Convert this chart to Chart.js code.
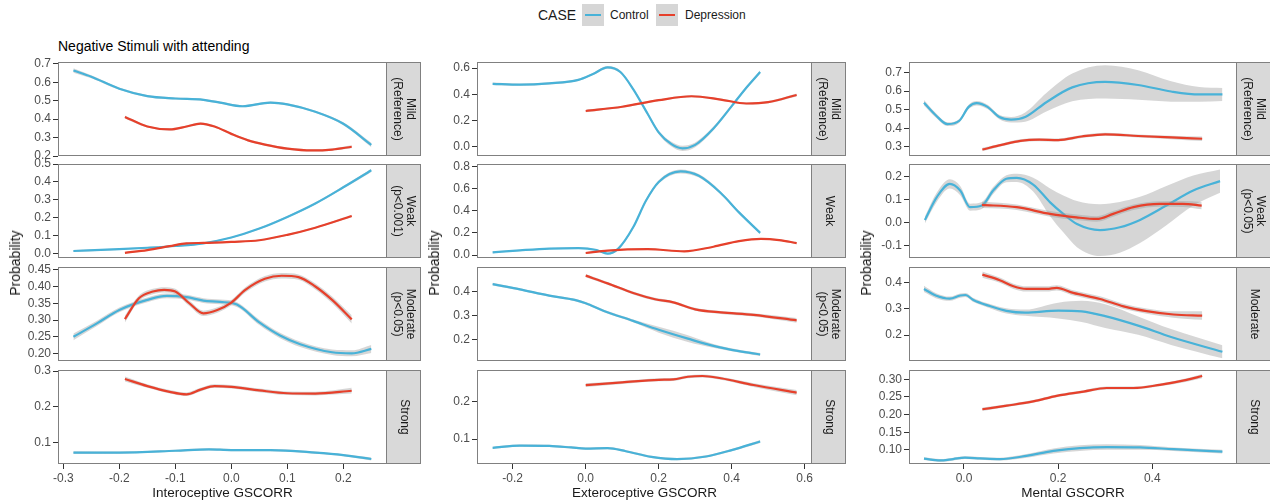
<!DOCTYPE html>
<html lang="en">
<head>
<meta charset="UTF-8">
<title>Negative Stimuli with attending</title>
<script src="https://cdn.jsdelivr.net/npm/chart.js"></script>
<style>
    body {
        margin: 0;
        background: #fff;
        overflow: hidden;
        font-family: 'Liberation Sans', Arial, Helvetica, sans-serif;
    }
    #wrap {
        position: relative;
        width: 1270px;
        height: 503px;
        overflow: hidden;
    }
    #wrap canvas {
        position: absolute;
    }
    .txt {
        position: absolute;
        white-space: nowrap;
        color: #1a1a1a;
    }
    .key {
        position: absolute;
        top: 4px;
        width: 22px;
        height: 22px;
        background: #d6d6d6;
    }
    .key span {
        position: absolute;
        left: 3px;
        right: 3px;
        top: 10px;
        height: 2px;
    }
</style>
</head>
<body>
<div id="wrap">
    <!-- legend -->
    <div class="txt" style="left:538px; top:7px; font-size:14px;">CASE</div>
    <div class="key" style="left:582px;"><span style="background:#48b2d8"></span></div>
    <div class="txt" style="left:610px; top:8px; font-size:12px;">Control</div>
    <div class="key" style="left:656px;"><span style="background:#e6402b"></span></div>
    <div class="txt" style="left:685px; top:8px; font-size:12px;">Depression</div>
    <!-- plot title -->
    <div class="txt" style="left:58px; top:38px; font-size:14px; color:#000;">Negative Stimuli with attending</div>
</div>

<script>
    // ---- data: each point is [x, fitted probability, half width of the grey band] ----

    // Interoceptive GSCORR
    const interoXTicks = ['-0.3', '-0.2', '-0.1', '0.0', '0.1', '0.2'];
    const interoXLim = [-0.3095, 0.278];
    const interoYTicks = [['0.2', '0.3', '0.4', '0.5', '0.6', '0.7'], ['0.0', '0.1', '0.2', '0.3', '0.4', '0.5'], ['0.20', '0.25', '0.30', '0.35', '0.40', '0.45'], ['0.1', '0.2', '0.3']];
    const interoYLim = [[0.2, 0.71], [-0.024, 0.5], [0.178, 0.458], [0.04, 0.303]];
    const interoStrips = [['Mild', '(Reference)'], ['Weak', '(p<0.001)'], ['Moderate', '(p<0.05)'], ['Strong']];

    const interoMildCtrl = [[-0.282, 0.664, 0.012], [-0.25, 0.63, 0.008], [-0.2, 0.565, 0.006], [-0.15, 0.525, 0.006], [-0.1, 0.512, 0.006], [-0.05, 0.505, 0.006], [-0.02, 0.49, 0.006], [0.02, 0.47, 0.006], [0.07, 0.49, 0.006], [0.1, 0.48, 0.006], [0.15, 0.44, 0.006], [0.2, 0.375, 0.008], [0.25, 0.26, 0.012]];
    const interoMildDep = [[-0.19, 0.412, 0.008], [-0.15, 0.36, 0.006], [-0.11, 0.344, 0.006], [-0.08, 0.36, 0.006], [-0.055, 0.376, 0.006], [-0.03, 0.36, 0.006], [0, 0.32, 0.006], [0.03, 0.285, 0.006], [0.06, 0.262, 0.006], [0.1, 0.24, 0.006], [0.145, 0.23, 0.006], [0.18, 0.235, 0.006], [0.215, 0.25, 0.008]];
    const interoWeakCtrl = [[-0.282, 0.015, 0.005], [-0.2, 0.025, 0.004], [-0.15, 0.033, 0.004], [-0.1, 0.043, 0.004], [-0.05, 0.058, 0.004], [0, 0.09, 0.004], [0.05, 0.14, 0.005], [0.1, 0.205, 0.005], [0.15, 0.28, 0.006], [0.2, 0.37, 0.007], [0.25, 0.465, 0.009]];
    const interoWeakDep = [[-0.19, 0.005, 0.005], [-0.15, 0.02, 0.004], [-0.11, 0.042, 0.004], [-0.08, 0.058, 0.004], [-0.05, 0.06, 0.004], [0, 0.066, 0.004], [0.05, 0.075, 0.004], [0.1, 0.105, 0.005], [0.15, 0.145, 0.005], [0.215, 0.21, 0.007]];
    const interoModCtrl = [[-0.282, 0.25, 0.01], [-0.24, 0.29, 0.008], [-0.2, 0.33, 0.007], [-0.15, 0.36, 0.007], [-0.115, 0.372, 0.007], [-0.08, 0.368, 0.007], [-0.05, 0.358, 0.007], [-0.02, 0.354, 0.007], [0.01, 0.346, 0.007], [0.05, 0.293, 0.008], [0.087, 0.254, 0.008], [0.123, 0.228, 0.008], [0.18, 0.204, 0.008], [0.215, 0.201, 0.009], [0.25, 0.214, 0.012]];
    const interoModDep = [[-0.19, 0.303, 0.01], [-0.165, 0.365, 0.008], [-0.14, 0.385, 0.008], [-0.12, 0.39, 0.008], [-0.1, 0.385, 0.008], [-0.075, 0.35, 0.008], [-0.05, 0.32, 0.008], [-0.025, 0.33, 0.008], [0, 0.352, 0.008], [0.025, 0.39, 0.008], [0.06, 0.423, 0.008], [0.09, 0.432, 0.008], [0.12, 0.428, 0.008], [0.15, 0.4, 0.009], [0.18, 0.36, 0.01], [0.215, 0.302, 0.012]];
    const interoStrongCtrl = [[-0.282, 0.072, 0.004], [-0.2, 0.072, 0.003], [-0.1, 0.077, 0.003], [-0.04, 0.081, 0.003], [0, 0.079, 0.003], [0.07, 0.079, 0.003], [0.15, 0.072, 0.003], [0.2, 0.065, 0.003], [0.25, 0.054, 0.004]];
    const interoStrongDep = [[-0.19, 0.278, 0.007], [-0.15, 0.258, 0.005], [-0.11, 0.242, 0.005], [-0.08, 0.235, 0.005], [-0.055, 0.248, 0.005], [-0.03, 0.258, 0.005], [0, 0.256, 0.005], [0.05, 0.246, 0.005], [0.1, 0.238, 0.005], [0.15, 0.237, 0.005], [0.215, 0.245, 0.008]];

    // Exteroceptive GSCORR
    const exteroXTicks = ['-0.2', '0.0', '0.2', '0.4', '0.6'];
    const exteroXLim = [-0.2978, 0.62];
    const exteroYTicks = [['0.0', '0.2', '0.4', '0.6'], ['0.0', '0.2', '0.4', '0.6', '0.8'], ['0.2', '0.3', '0.4'], ['0.1', '0.2']];
    const exteroYLim = [[-0.07, 0.646], [-0.027, 0.822], [0.11, 0.501], [0.034, 0.284]];
    const exteroStrips = [['Mild', '(Reference)'], ['Weak'], ['Moderate', '(p<0.05)'], ['Strong']];

    const exteroMildCtrl = [[-0.255, 0.48, 0.01], [-0.18, 0.473, 0.008], [-0.1, 0.483, 0.008], [-0.02, 0.51, 0.008], [0.02, 0.555, 0.008], [0.06, 0.605, 0.01], [0.095, 0.57, 0.01], [0.13, 0.44, 0.01], [0.17, 0.25, 0.012], [0.2, 0.11, 0.014], [0.235, 0.02, 0.018], [0.265, -0.012, 0.02], [0.3, 0.015, 0.018], [0.35, 0.14, 0.014], [0.4, 0.31, 0.012], [0.44, 0.45, 0.012], [0.478, 0.57, 0.014]];
    const exteroMildDep = [[0, 0.273, 0.01], [0.1, 0.305, 0.008], [0.2, 0.355, 0.008], [0.29, 0.385, 0.008], [0.37, 0.36, 0.008], [0.44, 0.33, 0.008], [0.5, 0.34, 0.009], [0.578, 0.395, 0.012]];
    const exteroWeakCtrl = [[-0.255, 0.024, 0.008], [-0.18, 0.042, 0.006], [-0.1, 0.058, 0.006], [-0.02, 0.063, 0.006], [0.03, 0.045, 0.006], [0.06, 0.012, 0.008], [0.09, 0.06, 0.01], [0.13, 0.25, 0.012], [0.165, 0.49, 0.014], [0.2, 0.66, 0.016], [0.26, 0.755, 0.018], [0.31, 0.715, 0.016], [0.37, 0.56, 0.014], [0.42, 0.385, 0.012], [0.478, 0.2, 0.012]];
    const exteroWeakDep = [[0, 0.018, 0.008], [0.06, 0.04, 0.006], [0.17, 0.053, 0.006], [0.27, 0.033, 0.006], [0.35, 0.075, 0.006], [0.42, 0.125, 0.006], [0.48, 0.145, 0.007], [0.53, 0.135, 0.008], [0.578, 0.108, 0.01]];
    const exteroModCtrl = [[-0.255, 0.43, 0.006], [-0.18, 0.408, 0.005], [-0.1, 0.382, 0.005], [-0.03, 0.364, 0.005], [0, 0.35, 0.005], [0.05, 0.318, 0.005], [0.13, 0.277, 0.006], [0.2, 0.24, 0.012], [0.28, 0.203, 0.014], [0.35, 0.173, 0.008], [0.42, 0.151, 0.006], [0.478, 0.137, 0.006]];
    const exteroModDep = [[0, 0.465, 0.007], [0.06, 0.433, 0.006], [0.13, 0.393, 0.006], [0.19, 0.367, 0.006], [0.24, 0.354, 0.006], [0.3, 0.325, 0.006], [0.37, 0.312, 0.006], [0.46, 0.302, 0.007], [0.578, 0.279, 0.01]];
    const exteroStrongCtrl = [[-0.255, 0.077, 0.003], [-0.18, 0.083, 0.003], [-0.1, 0.082, 0.003], [-0.04, 0.078, 0.003], [0, 0.075, 0.003], [0.06, 0.076, 0.003], [0.11, 0.068, 0.003], [0.18, 0.053, 0.003], [0.25, 0.047, 0.003], [0.33, 0.054, 0.003], [0.4, 0.071, 0.003], [0.478, 0.094, 0.004]];
    const exteroStrongDep = [[0, 0.244, 0.005], [0.1, 0.251, 0.004], [0.2, 0.258, 0.004], [0.24, 0.259, 0.004], [0.28, 0.266, 0.004], [0.32, 0.268, 0.004], [0.37, 0.262, 0.004], [0.46, 0.244, 0.005], [0.578, 0.224, 0.007]];

    // Mental GSCORR
    const mentalXTicks = ['0.0', '0.2', '0.4'];
    const mentalXLim = [-0.1168, 0.58];
    const mentalYTicks = [['0.3', '0.4', '0.5', '0.6', '0.7'], ['-0.1', '0.0', '0.1', '0.2'], ['0.2', '0.3', '0.4'], ['0.10', '0.15', '0.20', '0.25', '0.30']];
    const mentalYLim = [[0.25, 0.757], [-0.153, 0.254], [0.102, 0.458], [0.06, 0.326]];
    const mentalStrips = [['Mild', '(Reference)'], ['Weak', '(p<0.05)'], ['Moderate'], ['Strong']];

    const mentalMildCtrl = [[-0.085, 0.537, 0.015], [-0.06, 0.47, 0.012], [-0.035, 0.422, 0.01], [-0.01, 0.44, 0.01], [0.01, 0.515, 0.012], [0.027, 0.535, 0.012], [0.05, 0.515, 0.012], [0.075, 0.46, 0.012], [0.1, 0.446, 0.015], [0.13, 0.46, 0.025], [0.175, 0.54, 0.05], [0.23, 0.62, 0.075], [0.3, 0.65, 0.09], [0.37, 0.633, 0.08], [0.44, 0.598, 0.055], [0.5, 0.582, 0.04], [0.549, 0.582, 0.035]];
    const mentalMildDep = [[0.039, 0.285, 0.01], [0.08, 0.31, 0.008], [0.12, 0.332, 0.008], [0.16, 0.338, 0.008], [0.2, 0.336, 0.008], [0.25, 0.355, 0.008], [0.3, 0.367, 0.008], [0.37, 0.358, 0.008], [0.44, 0.35, 0.009], [0.506, 0.343, 0.012]];
    const mentalWeakCtrl = [[-0.083, 0.012, 0.015], [-0.058, 0.11, 0.02], [-0.03, 0.168, 0.02], [-0.008, 0.139, 0.02], [0.013, 0.067, 0.015], [0.038, 0.074, 0.015], [0.062, 0.139, 0.015], [0.09, 0.19, 0.015], [0.112, 0.194, 0.018], [0.147, 0.165, 0.03], [0.183, 0.088, 0.06], [0.211, 0.038, 0.08], [0.24, -0.006, 0.1], [0.289, -0.032, 0.112], [0.331, -0.02, 0.11], [0.374, 0.012, 0.1], [0.43, 0.074, 0.085], [0.487, 0.139, 0.065], [0.544, 0.18, 0.05]];
    const mentalWeakDep = [[0.038, 0.077, 0.014], [0.112, 0.067, 0.012], [0.183, 0.038, 0.012], [0.239, 0.023, 0.012], [0.282, 0.016, 0.012], [0.317, 0.038, 0.012], [0.36, 0.067, 0.012], [0.416, 0.081, 0.012], [0.465, 0.081, 0.013], [0.505, 0.074, 0.016]];
    const mentalModCtrl = [[-0.085, 0.375, 0.012], [-0.06, 0.35, 0.01], [-0.03, 0.338, 0.008], [-0.008, 0.35, 0.008], [0.003, 0.352, 0.008], [0.02, 0.333, 0.008], [0.055, 0.31, 0.008], [0.09, 0.292, 0.01], [0.13, 0.285, 0.012], [0.2, 0.293, 0.03], [0.25, 0.29, 0.04], [0.3, 0.272, 0.045], [0.37, 0.236, 0.035], [0.44, 0.193, 0.03], [0.549, 0.137, 0.025]];
    const mentalModDep = [[0.039, 0.429, 0.012], [0.076, 0.408, 0.01], [0.105, 0.385, 0.01], [0.133, 0.375, 0.01], [0.176, 0.375, 0.01], [0.197, 0.379, 0.01], [0.232, 0.36, 0.01], [0.289, 0.337, 0.01], [0.339, 0.309, 0.01], [0.388, 0.291, 0.01], [0.445, 0.278, 0.012], [0.506, 0.274, 0.016]];
    const mentalStrongCtrl = [[-0.085, 0.075, 0.004], [-0.051, 0.07, 0.004], [-0.023, 0.074, 0.004], [0.002, 0.078, 0.004], [0.034, 0.076, 0.004], [0.076, 0.074, 0.004], [0.133, 0.083, 0.005], [0.19, 0.097, 0.007], [0.246, 0.105, 0.008], [0.303, 0.108, 0.008], [0.374, 0.107, 0.007], [0.445, 0.102, 0.005], [0.549, 0.095, 0.005]];
    const mentalStrongDep = [[0.039, 0.215, 0.005], [0.091, 0.225, 0.004], [0.147, 0.237, 0.004], [0.197, 0.253, 0.004], [0.254, 0.265, 0.004], [0.303, 0.275, 0.004], [0.36, 0.275, 0.004], [0.416, 0.284, 0.004], [0.473, 0.298, 0.005], [0.506, 0.309, 0.006]];

    const xTitles = ['Interoceptive GSCORR', 'Exteroceptive GSCORR', 'Mental GSCORR'];
    const yTitle = 'Probability';

    // ---- layout (page pixels) ----
    const colL = [58, 477, 909], colR = [387, 812, 1237];
    const rowT = [62, 164, 267, 370], rowH = 94;
    const padL = 55, padR = 40, padT = 10, padB = 10, axisH = 30, stripW = 34;

    const CTRL = '#48b2d8', DEP = '#e6402b', BAND = 'rgba(153,153,153,0.4)';
    const FONT = "'Liberation Sans', Arial, Helvetica, sans-serif";

    const columns = [
        { ctrl: [interoMildCtrl, interoWeakCtrl, interoModCtrl, interoStrongCtrl], dep: [interoMildDep, interoWeakDep, interoModDep, interoStrongDep],
          yTicks: interoYTicks, yLim: interoYLim, strips: interoStrips, xTicks: interoXTicks, xLim: interoXLim },
        { ctrl: [exteroMildCtrl, exteroWeakCtrl, exteroModCtrl, exteroStrongCtrl], dep: [exteroMildDep, exteroWeakDep, exteroModDep, exteroStrongDep],
          yTicks: exteroYTicks, yLim: exteroYLim, strips: exteroStrips, xTicks: exteroXTicks, xLim: exteroXLim },
        { ctrl: [mentalMildCtrl, mentalWeakCtrl, mentalModCtrl, mentalStrongCtrl], dep: [mentalMildDep, mentalWeakDep, mentalModDep, mentalStrongDep],
          yTicks: mentalYTicks, yLim: mentalYLim, strips: mentalStrips, xTicks: mentalXTicks, xLim: mentalXLim }
    ];

    Chart.defaults.font.family = FONT;

    // panel border + grey facet strip on the right
    const facetFrame = {
        id: 'facetFrame',
        afterDraw(chart, args, opts) {
            const a = chart.chartArea, ctx = chart.ctx;
            const h = a.bottom - a.top;
            ctx.save();
            ctx.fillStyle = '#d9d9d9';
            ctx.fillRect(a.right, a.top, stripW, h);
            ctx.strokeStyle = '#808080';
            ctx.lineWidth = 1;
            ctx.strokeRect(a.left + 0.5, a.top + 0.5, a.right - a.left - 1, h - 1);
            ctx.strokeRect(a.right - 0.5, a.top + 0.5, stripW, h - 1);
            ctx.translate(a.right + stripW / 2, (a.top + a.bottom) / 2);
            ctx.rotate(Math.PI / 2);
            ctx.fillStyle = '#1a1a1a';
            ctx.font = '12px ' + FONT;
            ctx.textAlign = 'center';
            ctx.textBaseline = 'middle';
            const lines = opts.lines;
            lines.forEach((t, i) => ctx.fillText(t, 0, (i - (lines.length - 1) / 2) * 13.5));
            ctx.restore();
        }
    };

    const line = (pts, color) => ({
        data: pts.map(p => ({ x: p[0], y: p[1] })),
        borderColor: color, borderWidth: 2.2, fill: false
    });
    const edge = (pts, sign, fill) => ({
        data: pts.map(p => ({ x: p[0], y: p[1] + sign * p[2] })),
        borderWidth: 0, borderColor: 'rgba(0,0,0,0)', backgroundColor: BAND, fill: fill
    });

    function axisOpts(labels, lim, show) {
        return {
            type: 'linear', min: lim[0], max: lim[1], display: show,
            afterBuildTicks: s => { s.ticks = labels.map(t => ({ value: parseFloat(t) })); },
            grid: { drawOnChartArea: false, drawTicks: true, tickLength: 5, color: '#333' },
            border: { display: false },
            ticks: { color: '#4d4d4d', font: { size: 12 }, padding: 2, maxRotation: 0, autoSkip: false,
                     callback: (v, i) => labels[i] }
        };
    }

    const wrap = document.getElementById('wrap');

    columns.forEach((col, c) => {
        for (let r = 0; r < 4; r++) {
            const bottom = r === 3;
            const w = colR[c] - colL[c] + padL + padR;
            const h = rowH + padT + (bottom ? axisH : padB);
            const cv = document.createElement('canvas');
            cv.width = w; cv.height = h;
            cv.style.left = (colL[c] - padL) + 'px';
            cv.style.top = (rowT[r] - padT) + 'px';
            cv.style.width = w + 'px'; cv.style.height = h + 'px';
            wrap.appendChild(cv);

            const ctrl = col.ctrl[r], dep = col.dep[r];
            const xAxis = axisOpts(col.xTicks, col.xLim, bottom);
            // only the bottom row shows the x axis
            if (bottom) xAxis.afterFit = s => { s.height = axisH; };
            const yAxis = axisOpts(col.yTicks[r], col.yLim[r], true);
            yAxis.afterFit = s => { s.width = padL; };

            new Chart(cv, {
                type: 'line',
                data: {
                    // first dataset is drawn on top
                    datasets: [line(dep, DEP), edge(dep, -1, false), edge(dep, 1, '-1'),
                               line(ctrl, CTRL), edge(ctrl, -1, false), edge(ctrl, 1, '-1')]
                },
                options: {
                    responsive: false, animation: false, devicePixelRatio: 1,
                    layout: { padding: { left: 0, top: padT, right: padR, bottom: bottom ? 0 : padB } },
                    elements: { point: { radius: 0 }, line: { cubicInterpolationMode: 'monotone' } },
                    plugins: { legend: { display: false }, tooltip: { enabled: false },
                               facetFrame: { lines: col.strips[r] } },
                    scales: { x: xAxis, y: yAxis }
                },
                plugins: [facetFrame]
            });
        }

        // axis titles
        const xt = document.createElement('div');
        xt.className = 'txt';
        xt.style.cssText = 'font-size:13.5px; top:492px; left:' + (colL[c] + colR[c]) / 2 + 'px; transform:translate(-50%,-50%);';
        xt.textContent = xTitles[c];
        wrap.appendChild(xt);

        const yt = document.createElement('div');
        yt.className = 'txt';
        yt.style.cssText = 'font-size:14px; top:263px; left:' + (colL[c] - 43) + 'px; transform:translate(-50%,-50%) rotate(-90deg);';
        yt.textContent = yTitle;
        wrap.appendChild(yt);
    });
</script>
</body>
</html>
